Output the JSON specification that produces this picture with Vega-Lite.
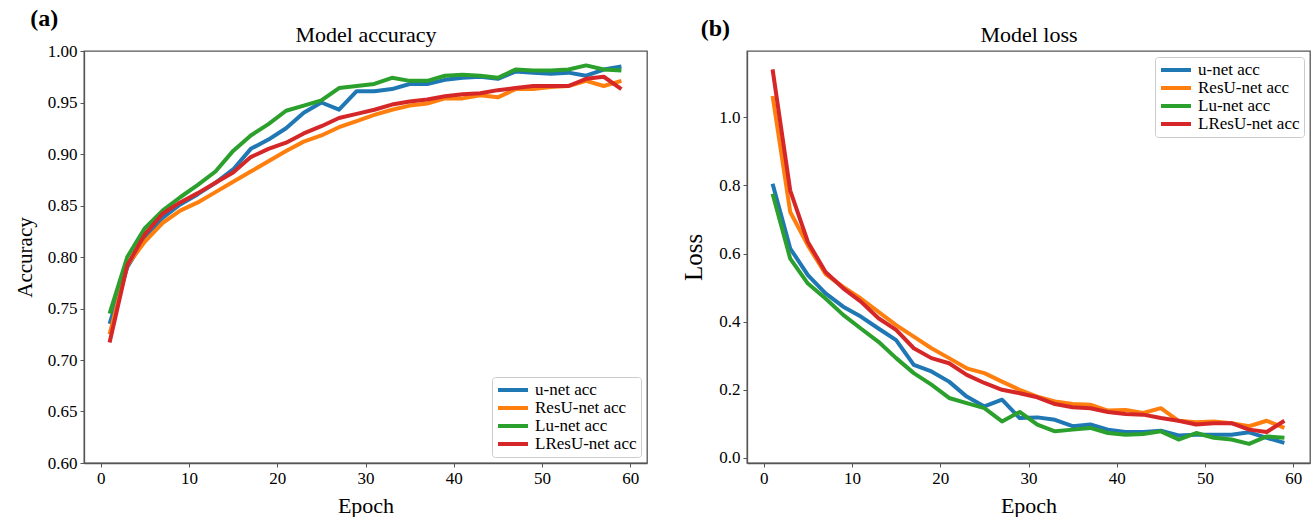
{
  "$schema": "https://vega.github.io/schema/vega-lite/v6.json",
  "background": "white",
  "padding": {"left": 13, "top": 6, "right": 0, "bottom": 0},
  "datasets": {
    "acc": [
      {"epoch": 1, "model": "u-net acc", "value": 0.735}, {"epoch": 3, "model": "u-net acc", "value": 0.79}, {"epoch": 5, "model": "u-net acc", "value": 0.818}, {"epoch": 7, "model": "u-net acc", "value": 0.838}, {"epoch": 9, "model": "u-net acc", "value": 0.851}, {"epoch": 11, "model": "u-net acc", "value": 0.861}, {"epoch": 13, "model": "u-net acc", "value": 0.872}, {"epoch": 15, "model": "u-net acc", "value": 0.885}, {"epoch": 17, "model": "u-net acc", "value": 0.905}, {"epoch": 19, "model": "u-net acc", "value": 0.914}, {"epoch": 21, "model": "u-net acc", "value": 0.925}, {"epoch": 23, "model": "u-net acc", "value": 0.94}, {"epoch": 25, "model": "u-net acc", "value": 0.95}, {"epoch": 27, "model": "u-net acc", "value": 0.943}, {"epoch": 29, "model": "u-net acc", "value": 0.961}, {"epoch": 31, "model": "u-net acc", "value": 0.961}, {"epoch": 33, "model": "u-net acc", "value": 0.963}, {"epoch": 35, "model": "u-net acc", "value": 0.968}, {"epoch": 37, "model": "u-net acc", "value": 0.968}, {"epoch": 39, "model": "u-net acc", "value": 0.972}, {"epoch": 41, "model": "u-net acc", "value": 0.974}, {"epoch": 43, "model": "u-net acc", "value": 0.975}, {"epoch": 45, "model": "u-net acc", "value": 0.973}, {"epoch": 47, "model": "u-net acc", "value": 0.98}, {"epoch": 49, "model": "u-net acc", "value": 0.979}, {"epoch": 51, "model": "u-net acc", "value": 0.978}, {"epoch": 53, "model": "u-net acc", "value": 0.979}, {"epoch": 55, "model": "u-net acc", "value": 0.976}, {"epoch": 57, "model": "u-net acc", "value": 0.982}, {"epoch": 59, "model": "u-net acc", "value": 0.985},
      {"epoch": 1, "model": "ResU-net acc", "value": 0.725}, {"epoch": 3, "model": "ResU-net acc", "value": 0.792}, {"epoch": 5, "model": "ResU-net acc", "value": 0.815}, {"epoch": 7, "model": "ResU-net acc", "value": 0.833}, {"epoch": 9, "model": "ResU-net acc", "value": 0.845}, {"epoch": 11, "model": "ResU-net acc", "value": 0.853}, {"epoch": 13, "model": "ResU-net acc", "value": 0.863}, {"epoch": 15, "model": "ResU-net acc", "value": 0.873}, {"epoch": 17, "model": "ResU-net acc", "value": 0.883}, {"epoch": 19, "model": "ResU-net acc", "value": 0.893}, {"epoch": 21, "model": "ResU-net acc", "value": 0.903}, {"epoch": 23, "model": "ResU-net acc", "value": 0.912}, {"epoch": 25, "model": "ResU-net acc", "value": 0.918}, {"epoch": 27, "model": "ResU-net acc", "value": 0.926}, {"epoch": 29, "model": "ResU-net acc", "value": 0.932}, {"epoch": 31, "model": "ResU-net acc", "value": 0.938}, {"epoch": 33, "model": "ResU-net acc", "value": 0.943}, {"epoch": 35, "model": "ResU-net acc", "value": 0.947}, {"epoch": 37, "model": "ResU-net acc", "value": 0.949}, {"epoch": 39, "model": "ResU-net acc", "value": 0.954}, {"epoch": 41, "model": "ResU-net acc", "value": 0.954}, {"epoch": 43, "model": "ResU-net acc", "value": 0.957}, {"epoch": 45, "model": "ResU-net acc", "value": 0.955}, {"epoch": 47, "model": "ResU-net acc", "value": 0.963}, {"epoch": 49, "model": "ResU-net acc", "value": 0.963}, {"epoch": 51, "model": "ResU-net acc", "value": 0.965}, {"epoch": 53, "model": "ResU-net acc", "value": 0.966}, {"epoch": 55, "model": "ResU-net acc", "value": 0.971}, {"epoch": 57, "model": "ResU-net acc", "value": 0.966}, {"epoch": 59, "model": "ResU-net acc", "value": 0.971},
      {"epoch": 1, "model": "Lu-net acc", "value": 0.745}, {"epoch": 3, "model": "Lu-net acc", "value": 0.8}, {"epoch": 5, "model": "Lu-net acc", "value": 0.828}, {"epoch": 7, "model": "Lu-net acc", "value": 0.845}, {"epoch": 9, "model": "Lu-net acc", "value": 0.858}, {"epoch": 11, "model": "Lu-net acc", "value": 0.87}, {"epoch": 13, "model": "Lu-net acc", "value": 0.883}, {"epoch": 15, "model": "Lu-net acc", "value": 0.903}, {"epoch": 17, "model": "Lu-net acc", "value": 0.918}, {"epoch": 19, "model": "Lu-net acc", "value": 0.929}, {"epoch": 21, "model": "Lu-net acc", "value": 0.942}, {"epoch": 23, "model": "Lu-net acc", "value": 0.947}, {"epoch": 25, "model": "Lu-net acc", "value": 0.952}, {"epoch": 27, "model": "Lu-net acc", "value": 0.964}, {"epoch": 29, "model": "Lu-net acc", "value": 0.966}, {"epoch": 31, "model": "Lu-net acc", "value": 0.968}, {"epoch": 33, "model": "Lu-net acc", "value": 0.974}, {"epoch": 35, "model": "Lu-net acc", "value": 0.971}, {"epoch": 37, "model": "Lu-net acc", "value": 0.971}, {"epoch": 39, "model": "Lu-net acc", "value": 0.976}, {"epoch": 41, "model": "Lu-net acc", "value": 0.977}, {"epoch": 43, "model": "Lu-net acc", "value": 0.976}, {"epoch": 45, "model": "Lu-net acc", "value": 0.974}, {"epoch": 47, "model": "Lu-net acc", "value": 0.982}, {"epoch": 49, "model": "Lu-net acc", "value": 0.981}, {"epoch": 51, "model": "Lu-net acc", "value": 0.981}, {"epoch": 53, "model": "Lu-net acc", "value": 0.982}, {"epoch": 55, "model": "Lu-net acc", "value": 0.986}, {"epoch": 57, "model": "Lu-net acc", "value": 0.982}, {"epoch": 59, "model": "Lu-net acc", "value": 0.981},
      {"epoch": 1, "model": "LResU-net acc", "value": 0.717}, {"epoch": 3, "model": "LResU-net acc", "value": 0.792}, {"epoch": 5, "model": "LResU-net acc", "value": 0.822}, {"epoch": 7, "model": "LResU-net acc", "value": 0.842}, {"epoch": 9, "model": "LResU-net acc", "value": 0.853}, {"epoch": 11, "model": "LResU-net acc", "value": 0.862}, {"epoch": 13, "model": "LResU-net acc", "value": 0.872}, {"epoch": 15, "model": "LResU-net acc", "value": 0.882}, {"epoch": 17, "model": "LResU-net acc", "value": 0.897}, {"epoch": 19, "model": "LResU-net acc", "value": 0.905}, {"epoch": 21, "model": "LResU-net acc", "value": 0.911}, {"epoch": 23, "model": "LResU-net acc", "value": 0.92}, {"epoch": 25, "model": "LResU-net acc", "value": 0.927}, {"epoch": 27, "model": "LResU-net acc", "value": 0.935}, {"epoch": 29, "model": "LResU-net acc", "value": 0.939}, {"epoch": 31, "model": "LResU-net acc", "value": 0.943}, {"epoch": 33, "model": "LResU-net acc", "value": 0.948}, {"epoch": 35, "model": "LResU-net acc", "value": 0.951}, {"epoch": 37, "model": "LResU-net acc", "value": 0.953}, {"epoch": 39, "model": "LResU-net acc", "value": 0.956}, {"epoch": 41, "model": "LResU-net acc", "value": 0.958}, {"epoch": 43, "model": "LResU-net acc", "value": 0.959}, {"epoch": 45, "model": "LResU-net acc", "value": 0.962}, {"epoch": 47, "model": "LResU-net acc", "value": 0.964}, {"epoch": 49, "model": "LResU-net acc", "value": 0.966}, {"epoch": 51, "model": "LResU-net acc", "value": 0.966}, {"epoch": 53, "model": "LResU-net acc", "value": 0.966}, {"epoch": 55, "model": "LResU-net acc", "value": 0.973}, {"epoch": 57, "model": "LResU-net acc", "value": 0.975}, {"epoch": 59, "model": "LResU-net acc", "value": 0.963}
    ],
    "loss": [
      {"epoch": 1, "model": "u-net acc", "value": 0.805}, {"epoch": 3, "model": "u-net acc", "value": 0.615}, {"epoch": 5, "model": "u-net acc", "value": 0.537}, {"epoch": 7, "model": "u-net acc", "value": 0.483}, {"epoch": 9, "model": "u-net acc", "value": 0.444}, {"epoch": 11, "model": "u-net acc", "value": 0.415}, {"epoch": 13, "model": "u-net acc", "value": 0.38}, {"epoch": 15, "model": "u-net acc", "value": 0.346}, {"epoch": 17, "model": "u-net acc", "value": 0.273}, {"epoch": 19, "model": "u-net acc", "value": 0.254}, {"epoch": 21, "model": "u-net acc", "value": 0.224}, {"epoch": 23, "model": "u-net acc", "value": 0.18}, {"epoch": 25, "model": "u-net acc", "value": 0.151}, {"epoch": 27, "model": "u-net acc", "value": 0.171}, {"epoch": 29, "model": "u-net acc", "value": 0.117}, {"epoch": 31, "model": "u-net acc", "value": 0.119}, {"epoch": 33, "model": "u-net acc", "value": 0.112}, {"epoch": 35, "model": "u-net acc", "value": 0.093}, {"epoch": 37, "model": "u-net acc", "value": 0.098}, {"epoch": 39, "model": "u-net acc", "value": 0.083}, {"epoch": 41, "model": "u-net acc", "value": 0.076}, {"epoch": 43, "model": "u-net acc", "value": 0.076}, {"epoch": 45, "model": "u-net acc", "value": 0.08}, {"epoch": 47, "model": "u-net acc", "value": 0.066}, {"epoch": 49, "model": "u-net acc", "value": 0.068}, {"epoch": 51, "model": "u-net acc", "value": 0.068}, {"epoch": 53, "model": "u-net acc", "value": 0.068}, {"epoch": 55, "model": "u-net acc", "value": 0.075}, {"epoch": 57, "model": "u-net acc", "value": 0.059}, {"epoch": 59, "model": "u-net acc", "value": 0.044},
      {"epoch": 1, "model": "ResU-net acc", "value": 1.063}, {"epoch": 3, "model": "ResU-net acc", "value": 0.722}, {"epoch": 5, "model": "ResU-net acc", "value": 0.624}, {"epoch": 7, "model": "ResU-net acc", "value": 0.54}, {"epoch": 9, "model": "ResU-net acc", "value": 0.502}, {"epoch": 11, "model": "ResU-net acc", "value": 0.468}, {"epoch": 13, "model": "ResU-net acc", "value": 0.429}, {"epoch": 15, "model": "ResU-net acc", "value": 0.39}, {"epoch": 17, "model": "ResU-net acc", "value": 0.356}, {"epoch": 19, "model": "ResU-net acc", "value": 0.322}, {"epoch": 21, "model": "ResU-net acc", "value": 0.293}, {"epoch": 23, "model": "ResU-net acc", "value": 0.263}, {"epoch": 25, "model": "ResU-net acc", "value": 0.249}, {"epoch": 27, "model": "ResU-net acc", "value": 0.224}, {"epoch": 29, "model": "ResU-net acc", "value": 0.2}, {"epoch": 31, "model": "ResU-net acc", "value": 0.18}, {"epoch": 33, "model": "ResU-net acc", "value": 0.166}, {"epoch": 35, "model": "ResU-net acc", "value": 0.158}, {"epoch": 37, "model": "ResU-net acc", "value": 0.156}, {"epoch": 39, "model": "ResU-net acc", "value": 0.139}, {"epoch": 41, "model": "ResU-net acc", "value": 0.141}, {"epoch": 43, "model": "ResU-net acc", "value": 0.132}, {"epoch": 45, "model": "ResU-net acc", "value": 0.146}, {"epoch": 47, "model": "ResU-net acc", "value": 0.109}, {"epoch": 49, "model": "ResU-net acc", "value": 0.105}, {"epoch": 51, "model": "ResU-net acc", "value": 0.107}, {"epoch": 53, "model": "ResU-net acc", "value": 0.102}, {"epoch": 55, "model": "ResU-net acc", "value": 0.093}, {"epoch": 57, "model": "ResU-net acc", "value": 0.109}, {"epoch": 59, "model": "ResU-net acc", "value": 0.088},
      {"epoch": 1, "model": "Lu-net acc", "value": 0.776}, {"epoch": 3, "model": "Lu-net acc", "value": 0.585}, {"epoch": 5, "model": "Lu-net acc", "value": 0.512}, {"epoch": 7, "model": "Lu-net acc", "value": 0.468}, {"epoch": 9, "model": "Lu-net acc", "value": 0.42}, {"epoch": 11, "model": "Lu-net acc", "value": 0.38}, {"epoch": 13, "model": "Lu-net acc", "value": 0.341}, {"epoch": 15, "model": "Lu-net acc", "value": 0.293}, {"epoch": 17, "model": "Lu-net acc", "value": 0.249}, {"epoch": 19, "model": "Lu-net acc", "value": 0.215}, {"epoch": 21, "model": "Lu-net acc", "value": 0.176}, {"epoch": 23, "model": "Lu-net acc", "value": 0.161}, {"epoch": 25, "model": "Lu-net acc", "value": 0.146}, {"epoch": 27, "model": "Lu-net acc", "value": 0.107}, {"epoch": 29, "model": "Lu-net acc", "value": 0.135}, {"epoch": 31, "model": "Lu-net acc", "value": 0.098}, {"epoch": 33, "model": "Lu-net acc", "value": 0.078}, {"epoch": 35, "model": "Lu-net acc", "value": 0.083}, {"epoch": 37, "model": "Lu-net acc", "value": 0.088}, {"epoch": 39, "model": "Lu-net acc", "value": 0.073}, {"epoch": 41, "model": "Lu-net acc", "value": 0.068}, {"epoch": 43, "model": "Lu-net acc", "value": 0.07}, {"epoch": 45, "model": "Lu-net acc", "value": 0.078}, {"epoch": 47, "model": "Lu-net acc", "value": 0.054}, {"epoch": 49, "model": "Lu-net acc", "value": 0.073}, {"epoch": 51, "model": "Lu-net acc", "value": 0.059}, {"epoch": 53, "model": "Lu-net acc", "value": 0.054}, {"epoch": 55, "model": "Lu-net acc", "value": 0.041}, {"epoch": 57, "model": "Lu-net acc", "value": 0.063}, {"epoch": 59, "model": "Lu-net acc", "value": 0.059},
      {"epoch": 1, "model": "LResU-net acc", "value": 1.141}, {"epoch": 3, "model": "LResU-net acc", "value": 0.785}, {"epoch": 5, "model": "LResU-net acc", "value": 0.634}, {"epoch": 7, "model": "LResU-net acc", "value": 0.546}, {"epoch": 9, "model": "LResU-net acc", "value": 0.498}, {"epoch": 11, "model": "LResU-net acc", "value": 0.459}, {"epoch": 13, "model": "LResU-net acc", "value": 0.41}, {"epoch": 15, "model": "LResU-net acc", "value": 0.376}, {"epoch": 17, "model": "LResU-net acc", "value": 0.322}, {"epoch": 19, "model": "LResU-net acc", "value": 0.293}, {"epoch": 21, "model": "LResU-net acc", "value": 0.278}, {"epoch": 23, "model": "LResU-net acc", "value": 0.244}, {"epoch": 25, "model": "LResU-net acc", "value": 0.22}, {"epoch": 27, "model": "LResU-net acc", "value": 0.2}, {"epoch": 29, "model": "LResU-net acc", "value": 0.19}, {"epoch": 31, "model": "LResU-net acc", "value": 0.178}, {"epoch": 33, "model": "LResU-net acc", "value": 0.158}, {"epoch": 35, "model": "LResU-net acc", "value": 0.149}, {"epoch": 37, "model": "LResU-net acc", "value": 0.146}, {"epoch": 39, "model": "LResU-net acc", "value": 0.135}, {"epoch": 41, "model": "LResU-net acc", "value": 0.129}, {"epoch": 43, "model": "LResU-net acc", "value": 0.127}, {"epoch": 45, "model": "LResU-net acc", "value": 0.117}, {"epoch": 47, "model": "LResU-net acc", "value": 0.109}, {"epoch": 49, "model": "LResU-net acc", "value": 0.098}, {"epoch": 51, "model": "LResU-net acc", "value": 0.102}, {"epoch": 53, "model": "LResU-net acc", "value": 0.102}, {"epoch": 55, "model": "LResU-net acc", "value": 0.083}, {"epoch": 57, "model": "LResU-net acc", "value": 0.076}, {"epoch": 59, "model": "LResU-net acc", "value": 0.109}
    ]
  },
  "spacing": 33,
  "hconcat": [
    {
      "data": {"name": "acc"},
      "width": 563,
      "height": 412,
      "title": {"text": "(a)", "anchor": "start", "fontWeight": "bold", "fontSize": 24, "dx": 16, "dy": 2, "offset": -6},
      "layer": [
        {
          "mark": {"type": "line", "strokeWidth": 4, "strokeJoin": "round"},
          "encoding": {
            "x": {"field": "epoch", "type": "quantitative", "scale": {"domain": [-1.9, 61.9], "nice": false, "zero": false}, "axis": {"values": [0, 10, 20, 30, 40, 50, 60], "format": "d", "title": "Epoch", "orient": "bottom"}},
            "y": {"field": "value", "type": "quantitative", "scale": {"domain": [0.6, 1.0], "nice": false, "zero": false}, "axis": {"values": [0.6, 0.65, 0.7, 0.75, 0.8, 0.85, 0.9, 0.95, 1.0], "format": ".2f", "title": "Accuracy", "titleFontSize": 21}},
            "color": {"field": "model", "type": "nominal", "sort": null, "scale": {"domain": ["u-net acc", "ResU-net acc", "Lu-net acc", "LResU-net acc"], "range": ["#1f77b4", "#ff7f0e", "#2ca02c", "#d62728"]}, "legend": {"orient": "bottom-right", "title": null}}
          }
        },
        {
          "mark": {"type": "line", "strokeWidth": 0, "strokeOpacity": 0},
          "encoding": {
            "x": {"field": "epoch", "type": "quantitative", "axis": {"orient": "top", "title": "Model accuracy", "labels": false, "ticks": false, "domain": false, "titlePadding": 5, "titleFontSize": 22}},
            "y": {"field": "value", "type": "quantitative"},
            "detail": {"field": "model", "type": "nominal"}
          }
        }
      ],
      "resolve": {"axis": {"x": "independent"}}
    },
    {
      "data": {"name": "loss"},
      "width": 563,
      "height": 412,
      "title": {"text": "(b)", "anchor": "start", "fontWeight": "bold", "fontSize": 24, "dx": 19, "dy": 12, "offset": -6},
      "layer": [
        {
          "mark": {"type": "line", "strokeWidth": 4, "strokeJoin": "round"},
          "encoding": {
            "x": {"field": "epoch", "type": "quantitative", "scale": {"domain": [-1.9, 61.9], "nice": false, "zero": false}, "axis": {"values": [0, 10, 20, 30, 40, 50, 60], "format": "d", "title": "Epoch", "orient": "bottom"}},
            "y": {"field": "value", "type": "quantitative", "scale": {"domain": [-0.015, 1.195], "nice": false, "zero": false}, "axis": {"values": [0, 0.2, 0.4, 0.6, 0.8, 1.0], "format": ".1f", "title": "Loss", "titleFontSize": 25}},
            "color": {"field": "model", "type": "nominal", "sort": null, "scale": {"domain": ["u-net acc", "ResU-net acc", "Lu-net acc", "LResU-net acc"], "range": ["#1f77b4", "#ff7f0e", "#2ca02c", "#d62728"]}, "legend": {"orient": "top-right", "title": null}}
          }
        },
        {
          "mark": {"type": "line", "strokeWidth": 0, "strokeOpacity": 0},
          "encoding": {
            "x": {"field": "epoch", "type": "quantitative", "axis": {"orient": "top", "title": "Model loss", "labels": false, "ticks": false, "domain": false, "titlePadding": 5, "titleFontSize": 22}},
            "y": {"field": "value", "type": "quantitative"},
            "detail": {"field": "model", "type": "nominal"}
          }
        }
      ],
      "resolve": {"axis": {"x": "independent"}}
    }
  ],
  "resolve": {"scale": {"color": "independent"}, "legend": {"color": "independent"}},
  "config": {
    "font": "Liberation Serif",
    "view": {"stroke": "#555555", "strokeWidth": 1.3},
    "title": {"font": "Liberation Serif", "fontSize": 22, "fontWeight": "normal", "color": "#000000", "offset": 6},
    "axis": {
      "labelFont": "Liberation Serif", "labelFontSize": 17, "labelColor": "#000000", "labelPadding": 3,
      "titleFont": "Liberation Serif", "titleFontSize": 22, "titleFontWeight": "normal", "titleColor": "#000000", "titlePadding": 12,
      "domainColor": "#555555", "domainWidth": 1.3, "tickColor": "#555555", "tickSize": 4, "tickWidth": 1, "grid": false
    },
    "axisX": {"titlePadding": 9},
    "legend": {
      "symbolType": "stroke", "symbolStrokeWidth": 4, "symbolSize": 900, "clipHeight": 18, "rowPadding": 0,
      "labelFont": "Liberation Serif", "labelFontSize": 17, "labelColor": "#000000", "labelOffset": 5, "labelLimit": 0,
      "strokeColor": "#cccccc", "fillColor": "#ffffff", "padding": 4, "cornerRadius": 3, "offset": 6
    }
  }
}
